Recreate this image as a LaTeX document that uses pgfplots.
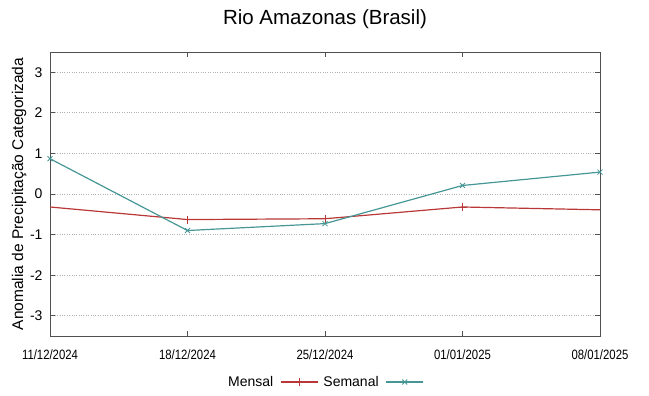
\documentclass[border=0pt]{standalone}
\usepackage{fontspec}
\setmainfont{Liberation Sans}
\newfontfamily\narrowfont[FakeStretch=0.84]{Liberation Sans}
\usepackage{pgfplots}
\pgfplotsset{compat=1.18}
\definecolor{mensal}{RGB}{185,55,55}
\definecolor{semanal}{RGB}{70,150,150}
\definecolor{frame}{RGB}{80,80,80}
\begin{document}
\begin{tikzpicture}
\path[use as bounding box] (0,0) rectangle (649bp,396bp);
\begin{axis}[
  at={(50bp,60bp)}, anchor=south west,
  scale only axis, width=550bp, height=284bp,
  xmin=0, xmax=4, ymin=-3.5, ymax=3.5,
  xtick={0,1,2,3,4},
  xticklabels={11/12/2024,18/12/2024,25/12/2024,01/01/2025,08/01/2025},
  ytick={-3,-2,-1,0,1,2,3},
  tick align=inside, major tick length=5bp,
  axis line style={frame, line width=1bp},
  every tick/.style={frame, line width=1bp},
  ymajorgrids, grid style={gray!60, dotted, line width=0.8bp},
  /pgf/number format/assume math mode=true,
  yticklabel style={font=\fontsize{14bp}{16bp}\selectfont, xshift=-4bp},
  xticklabel style={font=\narrowfont\fontsize{13.5bp}{15bp}\selectfont, anchor=center, yshift=-19bp},
  ylabel={Anomalia de Precipitação Categorizada},
  ylabel style={font=\fontsize{15.5bp}{18bp}\selectfont, at={(axis description cs:-0.056,0.5)}, anchor=center},
  title={Rio Amazonas (Brasil)},
  title style={font=\fontsize{20.5bp}{24bp}\selectfont, at={(axis description cs:0.5,1)}, anchor=center, yshift=27bp},
  legend style={at={(axis description cs:0.5,0)}, anchor=center, yshift=-46bp, draw=none, fill=none,
    font=\fontsize{14bp}{16bp}\selectfont, legend columns=2,
    /tikz/every odd column/.append style={column sep=5bp},
    /tikz/every even column/.append style={column sep=3bp}},
  legend plot pos=right,
  legend image code/.code={\draw[#1, mark indices={2}] plot coordinates {(0bp,0bp) (18.5bp,0bp) (37bp,0bp)};},
]
\addplot[mensal, line width=1.2bp, mark=+, mark size=4bp, mark indices={2,3,4}, mark options={line width=0.8bp}] coordinates {
(0,-0.32) (1,-0.63) (2,-0.61) (3,-0.32) (4,-0.39)};
\addlegendentry{Mensal}
\addplot[semanal, line width=1.2bp, mark=x, mark size=3.5bp, mark options={line width=0.8bp}] coordinates {
(0,0.87) (1,-0.90) (2,-0.73) (3,0.21) (4,0.54)};
\addlegendentry{Semanal}
\end{axis}
\end{tikzpicture}
\end{document}
